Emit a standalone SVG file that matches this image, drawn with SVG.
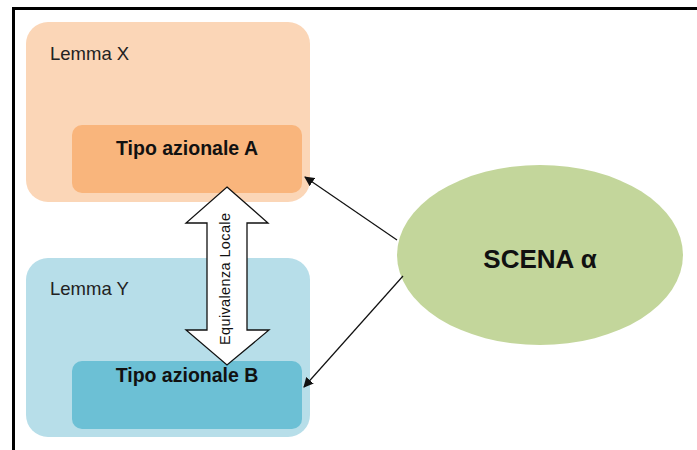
<svg xmlns="http://www.w3.org/2000/svg" width="697" height="450" viewBox="0 0 697 450">
<defs>
<style>
.lbl{font-family:"Liberation Sans",Arial,sans-serif;font-size:18.5px;fill:#222}
.typ{font-family:"Liberation Sans",Arial,sans-serif;font-size:19.5px;font-weight:bold;fill:#111;text-anchor:middle}
.conn{stroke:#111;stroke-width:1.2;fill:none;marker-end:url(#ah)}
</style>
<marker id="ah" viewBox="0 0 10 10" refX="9" refY="5" markerWidth="10" markerHeight="10" markerUnits="userSpaceOnUse" orient="auto">
<path d="M0,0 L10,5 L0,10 z" fill="#111"/>
</marker>
</defs>
<rect x="0" y="0" width="697" height="450" fill="#fff"/>
<path d="M13.5,450 V8.5 H697" fill="none" stroke="#000" stroke-width="3"/>
<g id="lemmaX">
<rect x="26" y="22" width="284" height="180" rx="22" fill="#FBD6B7"/>
<text class="lbl" x="50" y="60">Lemma X</text>
</g>
<g id="tipoA">
<rect x="72" y="125" width="230" height="68" rx="10" fill="#F9B57C"/>
<text class="typ" x="187" y="155">Tipo azionale A</text>
</g>
<g id="lemmaY">
<rect x="26" y="258" width="284" height="179" rx="22" fill="#B7DEE9"/>
<text class="lbl" x="50" y="295">Lemma Y</text>
</g>
<g id="tipoB">
<rect x="72" y="361" width="230" height="68" rx="10" fill="#6CC0D5"/>
<text class="typ" x="187" y="382">Tipo azionale B</text>
</g>
<g id="equivalenza">
<path d="M227,187 L268,223 L247,223 L247,330 L269,330 L227,365 L186,330 L207,330 L207,223 L186,223 Z" fill="#fff" stroke="#111" stroke-width="1.3" stroke-linejoin="miter"/>
<text x="0" y="0" transform="translate(229.5,279) rotate(-90)" font-family="'Liberation Sans',Arial,sans-serif" font-size="14.5" fill="#111" text-anchor="middle" textLength="132" lengthAdjust="spacing">Equivalenza Locale</text>
</g>
<g id="scena">
<ellipse cx="540" cy="255" rx="143" ry="90" fill="#C3D69B"/>
<text x="540" y="268" font-family="'Liberation Sans',Arial,sans-serif" font-size="26" font-weight="bold" fill="#111" text-anchor="middle">SCENA α</text>
</g>
<g id="connectors">
<line class="conn" x1="397" y1="240" x2="305" y2="177"/>
<line class="conn" x1="403" y1="276" x2="304" y2="387"/>
</g>
</svg>
